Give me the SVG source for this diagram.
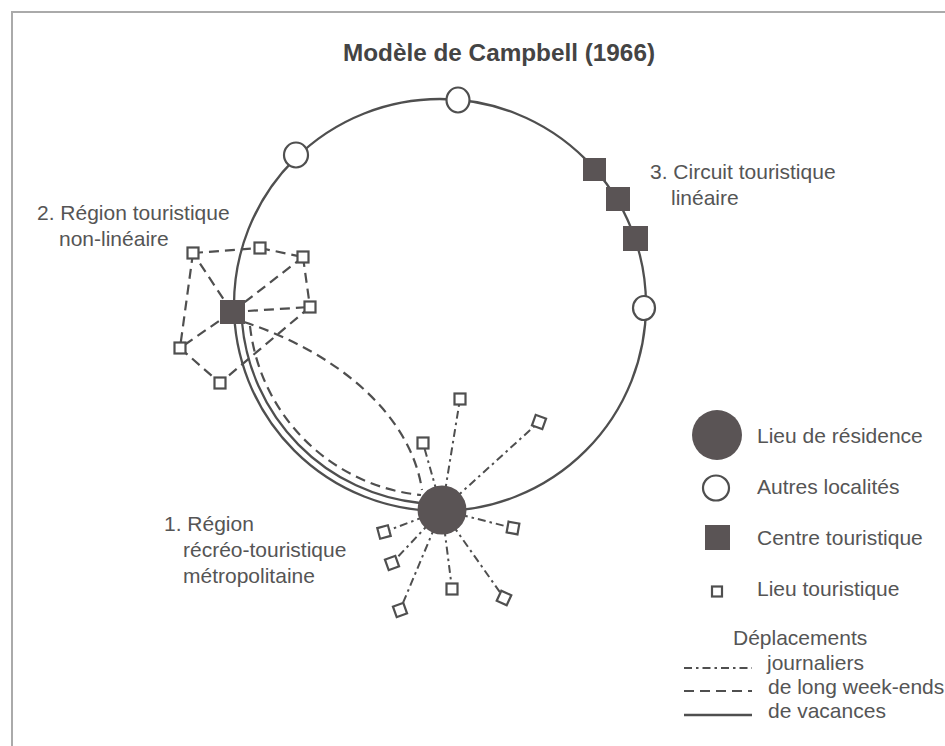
<svg xmlns="http://www.w3.org/2000/svg" width="945" height="746" viewBox="0 0 945 746">
<style>
.t{font-family:"Liberation Sans",Arial,sans-serif;font-size:21px;fill:#555}
.title{font-family:"Liberation Sans",Arial,sans-serif;font-weight:bold;font-size:23px;fill:#444}
.frame{fill:none;stroke:#aaa;stroke-width:2}
.sol{fill:none;stroke:#4f4f4f;stroke-width:2.3}
.dash{fill:none;stroke:#4f4f4f;stroke-width:2.2;stroke-dasharray:10 6}
.dd{fill:none;stroke:#4f4f4f;stroke-width:2;stroke-dasharray:8 4 2.5 4}
.dark{fill:#5a5455}
.loc{fill:#fff;stroke:#4f4f4f;stroke-width:2.2}
.lieu{fill:#fff;stroke:#4f4f4f;stroke-width:2.2}
</style>
<rect width="945" height="746" fill="#fff"/>
<path class="frame" d="M12 746 V12 H945"/>
<text class="title" x="499" y="61" text-anchor="middle" textLength="312" lengthAdjust="spacingAndGlyphs">Modèle de Campbell (1966)</text>

<g id="connectors">
  <circle class="sol" cx="440" cy="305" r="206"/>
  <path class="sol" d="M242 322 A199 199 0 0 0 420 503"/>
  <path class="dash" d="M250 326 A191 191 0 0 0 421 495"/>
  <path class="dash" d="M244 322 C330 350 410 410 422 490"/>
  <path class="dash" d="M193 253 L260 248"/>
  <path class="dash" d="M260 248 L303 257"/>
  <path class="dash" d="M303 257 L310 307"/>
  <path class="dash" d="M193 253 L180 348"/>
  <path class="dash" d="M180 348 L220 383"/>
  <path class="dash" d="M310 307 L220 383"/>
  <path class="dash" d="M232 312 L193 253"/>
  <path class="dash" d="M232 312 L303 257"/>
  <path class="dash" d="M232 312 L310 307"/>
  <path class="dash" d="M232 312 L180 348"/>
  <path class="dd" d="M442 510 L460 399"/>
  <path class="dd" d="M442 510 L539 422"/>
  <path class="dd" d="M442 510 L423 443"/>
  <path class="dd" d="M442 510 L384 532"/>
  <path class="dd" d="M442 510 L392 563"/>
  <path class="dd" d="M442 510 L400 610"/>
  <path class="dd" d="M442 510 L452 589"/>
  <path class="dd" d="M442 510 L504 598"/>
  <path class="dd" d="M442 510 L513 528"/>
</g>

<g id="autres-localites">
  <ellipse class="loc" cx="458" cy="100" rx="11.5" ry="12.5"/>
  <ellipse class="loc" cx="296" cy="155" rx="12" ry="12.5"/>
  <ellipse class="loc" cx="644" cy="308" rx="11" ry="12"/>
</g>
<g id="circuit-lineaire">
  <rect class="dark" x="583" y="158" width="23" height="23"/>
  <rect class="dark" x="606" y="187" width="24" height="24"/>
  <rect class="dark" x="623" y="226" width="25" height="25"/>
</g>
<g id="region-non-lineaire">
  <rect class="dark" x="220" y="300" width="25" height="24"/>
  <rect class="lieu" x="187.5" y="247.5" width="11" height="11"/>
  <rect class="lieu" x="254.5" y="242.5" width="11" height="11"/>
  <rect class="lieu" x="297.5" y="251.5" width="11" height="11"/>
  <rect class="lieu" x="304.5" y="301.5" width="11" height="11"/>
  <rect class="lieu" x="174.5" y="342.5" width="11" height="11"/>
  <rect class="lieu" x="214.5" y="377.5" width="11" height="11"/>
</g>
<g id="region-metropolitaine">
  <circle class="dark" cx="442" cy="510" r="24.5"/>
  <rect class="lieu" x="454.5" y="393.5" width="11" height="11"/>
  <rect class="lieu" x="533.5" y="416.5" width="11" height="11" transform="rotate(20 539 422)"/>
  <rect class="lieu" x="417.5" y="437.5" width="11" height="11"/>
  <rect class="lieu" x="378.5" y="526.5" width="11" height="11" transform="rotate(-15 384 532)"/>
  <rect class="lieu" x="386.5" y="557.5" width="11" height="11" transform="rotate(-20 392 563)"/>
  <rect class="lieu" x="394.5" y="604.5" width="11" height="11" transform="rotate(-20 400 610)"/>
  <rect class="lieu" x="446.5" y="583.5" width="11" height="11"/>
  <rect class="lieu" x="498.5" y="592.5" width="11" height="11" transform="rotate(25 504 598)"/>
  <rect class="lieu" x="507.5" y="522.5" width="11" height="11" transform="rotate(10 513 528)"/>
</g>

<g id="labels">
  <text class="t" x="37" y="220">2. Région touristique</text>
  <text class="t" x="59" y="246">non-linéaire</text>
  <text class="t" x="650" y="179">3. Circuit touristique</text>
  <text class="t" x="671" y="205">linéaire</text>
  <text class="t" x="164" y="531">1. Région</text>
  <text class="t" x="183" y="557">récréo-touristique</text>
  <text class="t" x="183" y="583">métropolitaine</text>
</g>

<g id="legend">
  <circle class="dark" cx="717" cy="435" r="25"/>
  <text class="t" x="757" y="443">Lieu de résidence</text>
  <ellipse class="loc" cx="716" cy="488" rx="13" ry="12.5"/>
  <text class="t" x="757" y="494">Autres localités</text>
  <rect class="dark" x="705" y="525" width="25" height="25"/>
  <text class="t" x="757" y="545">Centre touristique</text>
  <rect class="lieu" x="712" y="586.5" width="10" height="10"/>
  <text class="t" x="757" y="596">Lieu touristique</text>
  <text class="t" x="733" y="645">Déplacements</text>
  <path class="dd" d="M684 668 H752"/>
  <text class="t" x="767" y="670">journaliers</text>
  <path class="dash" d="M684 691 H752"/>
  <text class="t" x="768" y="694">de long week-ends</text>
  <path class="sol" d="M684 715 H752"/>
  <text class="t" x="768" y="718">de vacances</text>
</g>
</svg>
